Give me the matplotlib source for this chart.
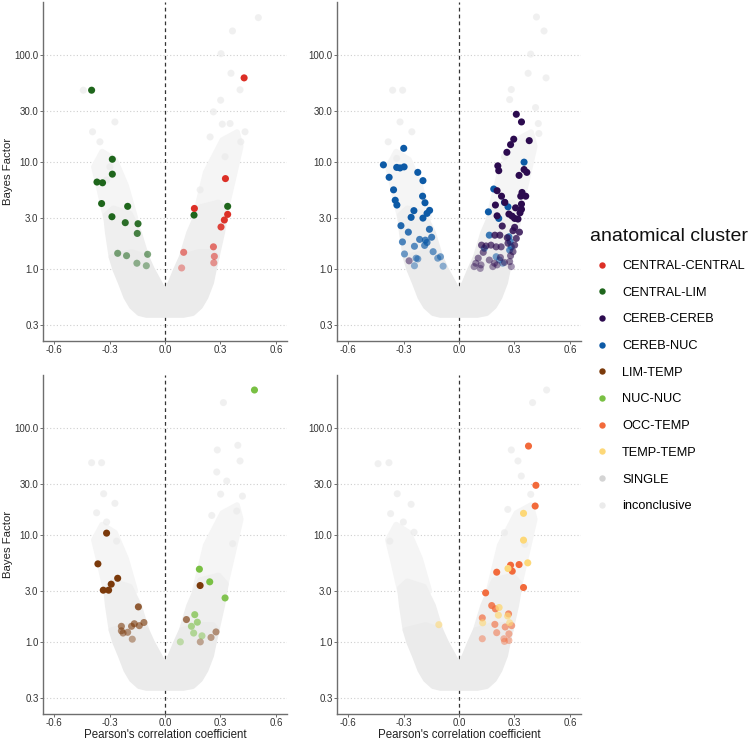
import numpy as np
import matplotlib
matplotlib.use("Agg")
import matplotlib.pyplot as plt
from matplotlib.lines import Line2D
from matplotlib.patches import Polygon

plt.rcParams['font.family'] = ['Liberation Sans', 'DejaVu Sans']

# ---------------- data ----------------
clusters = ["CENTRAL-CENTRAL", "CENTRAL-LIM", "CEREB-CEREB", "CEREB-NUC", "LIM-TEMP",
            "NUC-NUC", "OCC-TEMP", "TEMP-TEMP", "SINGLE", "inconclusive"]
colors = ["#dc2f26", "#1f661c", "#2c0b4f", "#0d5aa6", "#7b3a0b",
          "#79c043", "#f26a3b", "#fdd878", "#d4d4d4", "#ebebeb"]

# panel 1 (top-left)
cc_r = [0.428, 0.327, 0.159, 0.339, 0.321, 0.303, 0.262, 0.101, 0.267, 0.264, 0.090]
cc_bf = [60.7, 7.0, 3.69, 3.25, 2.88, 2.48, 1.62, 1.44, 1.32, 1.15, 1.03]
cl_r = [-0.397, -0.285, -0.285, -0.368, -0.338, -0.343, -0.202, -0.287, -0.215, -0.146,
        -0.150, -0.256, -0.208, -0.094, -0.152, -0.101, 0.157, 0.339]
cl_bf = [46.6, 10.6, 7.7, 6.5, 6.4, 4.1, 3.86, 3.09, 2.72, 2.66,
         2.16, 1.41, 1.34, 1.38, 1.14, 1.08, 3.2, 3.86]

# panel 2 (top-right)
cn_r = [-0.299, -0.409, -0.337, -0.319, -0.297, -0.378, -0.223, -0.195, -0.354, -0.197,
        -0.345, -0.336, -0.184, -0.244, -0.159, -0.173, -0.259, -0.195, -0.314, -0.160,
        -0.274, -0.306, -0.213, -0.182, -0.148, -0.241, -0.186, -0.173, -0.140, -0.295,
        -0.232, -0.223, -0.115, -0.100, -0.086, -0.241,
        0.352, 0.188, 0.246, 0.265, 0.159, 0.215, 0.164, 0.270, 0.277, 0.137,
        0.283, 0.219, 0.237, 0.274, 0.201]
cn_bf = [13.4, 9.4, 8.9, 8.8, 9.0, 7.2, 8.0, 6.7, 5.5, 4.8,
         4.4, 3.97, 4.17, 3.52, 3.54, 3.32, 3.05, 3.0, 2.55, 2.36,
         2.22, 1.80, 1.90, 1.87, 1.99, 1.64, 1.67, 1.78, 1.46, 1.39,
         1.27, 1.25, 1.27, 1.31, 1.07, 1.08,
         9.96, 5.6, 4.2, 3.82, 3.43, 2.98, 2.08, 2.01, 1.81, 1.57,
         1.62, 1.22, 1.14, 1.51, 1.31]
ce_r = [-0.270, 0.310, 0.338, 0.296, 0.380, 0.279, 0.259, 0.210, 0.215, 0.352, 0.367,
        0.325, 0.206, 0.230, 0.341, 0.334, 0.361, 0.248, 0.306, 0.338, 0.197, 0.206,
        0.270, 0.287, 0.301, 0.330, 0.338, 0.319, 0.234, 0.301, 0.292, 0.327, 0.194,
        0.221, 0.310, 0.261, 0.122, 0.146, 0.173, 0.201, 0.131, 0.104, 0.091, 0.119,
        0.164, 0.192, 0.224, 0.246, 0.274, 0.279, 0.292, 0.228, 0.082, 0.206, 0.115,
        0.183, 0.283, 0.265, 0.301]
ce_bf = [1.20, 27.8, 23.6, 16.3, 15.8, 14.5, 12.3, 9.2, 8.3, 8.5, 8.0,
         7.5, 5.4, 4.8, 5.2, 4.8, 4.8, 4.2, 3.74, 4.05, 3.97, 3.15,
         3.27, 3.13, 2.98, 3.36, 3.62, 2.94, 2.53, 2.46, 2.29, 2.22, 2.08,
         2.08, 1.94, 1.97, 1.68, 1.65, 1.68, 1.62, 1.44, 1.27, 1.14, 1.10,
         1.22, 1.14, 1.29, 1.16, 1.18, 1.34, 1.46, 1.62, 1.06, 1.10, 1.02,
         1.06, 1.06, 1.75, 1.68]

# panel 3 (bottom-left)
lt_r = [-0.316, -0.363, -0.256, -0.291, -0.334, -0.305, -0.144, -0.236, -0.236, -0.227,
        -0.202, -0.181, -0.166, -0.139, -0.114, -0.177, 0.190, 0.116, 0.276, 0.249, 0.191]
lt_bf = [10.4, 5.38, 3.95, 3.48, 3.06, 3.06, 2.14, 1.41, 1.28, 1.22,
         1.24, 1.41, 1.49, 1.43, 1.53, 1.07, 3.38, 1.63, 1.25, 1.11, 1.01]
nn_r = [0.484, 0.186, 0.242, 0.325, 0.161, 0.175, 0.143, 0.155, 0.200, 0.083]
nn_bf = [224, 4.8, 3.66, 2.59, 1.81, 1.54, 1.41, 1.22, 1.15, 1.01]

# panel 4 (bottom-right)
ot_r = [0.376, 0.416, 0.412, 0.279, 0.325, 0.288, 0.204, 0.349, 0.144, 0.177, 0.197,
        0.126, 0.194, 0.250, 0.285, 0.268, 0.204, 0.270, 0.126, 0.243, 0.270, 0.246]
ot_bf = [67.3, 29.0, 18.6, 5.23, 5.3, 4.6, 4.5, 3.24, 2.89, 2.20, 2.05,
         1.69, 1.47, 1.39, 1.43, 1.84, 1.23, 1.20, 1.08, 1.08, 1.04, 1.02]
tt_r = [0.349, 0.349, 0.372, 0.265, 0.217, 0.213, 0.263, 0.128, 0.274, -0.109]
tt_bf = [15.9, 8.95, 5.5, 4.87, 2.11, 1.79, 1.76, 1.52, 1.52, 1.46]

# inconclusive cloud envelopes (shared by all panels)
core_r = [-0.29, -0.27, -0.24, -0.21, -0.18, -0.14, -0.10, 0.10, 0.15, 0.19,
          0.22, 0.25, 0.265, 0.28, 0.26, 0.18, 0.09, 0.06, 0.03, 0.0, -0.03, -0.07,
          -0.10, -0.18]
core_bf = [1.3, 1.0, 0.75, 0.55, 0.45, 0.39, 0.375, 0.375, 0.39, 0.45,
           0.55, 0.75, 1.0, 1.3, 1.45, 1.45, 1.3, 1.0, 0.75, 0.6, 0.75, 1.0,
           1.3, 1.45]
mid_l_r = [-0.29, -0.31, -0.32, -0.28, -0.19, -0.14, -0.10]
mid_l_bf = [1.3, 2.2, 3.2, 3.7, 3.3, 2.2, 1.3]
mid_r_r = [0.28, 0.31, 0.33, 0.29, 0.19, 0.13, 0.09]
mid_r_bf = [1.3, 2.2, 3.5, 4.2, 3.8, 2.2, 1.3]
halo_l_r = [-0.32, -0.36, -0.385, -0.34, -0.27, -0.21, -0.16]
halo_l_bf = [3.0, 6.0, 9.0, 12.5, 10.5, 6.0, 3.0]
halo_r_r = [0.32, 0.37, 0.41, 0.39, 0.31, 0.22, 0.16]
halo_r_bf = [3.0, 7.0, 14.0, 19.0, 16.0, 8.0, 3.0]

# sparse inconclusive points per panel
sp1_r = [0.505, 0.365, 0.303, 0.357, 0.406, 0.301, 0.262, 0.352, 0.410, 0.244, 0.310,
         -0.442, -0.271, -0.392, -0.352, -0.298, 0.433, 0.325, 0.19, -0.316]
sp1_bf = [221, 166, 102, 67, 47, 37.6, 29.3, 22.8, 15.4, 17.1, 22.5,
          46.6, 23.6, 19.1, 15.4, 9.0, 19.1, 11.2, 5.5, 6.8]
sp2_r = [0.419, 0.460, 0.388, 0.374, 0.471, 0.283, 0.274, 0.414, 0.429, 0.432,
         -0.359, -0.305, -0.319, -0.255, -0.383, 0.246, -0.337]
sp2_bf = [224, 166, 101, 67, 60.7, 47.3, 38.1, 32.1, 22.8, 18.4,
          46.6, 46.6, 23.6, 19.1, 15.4, 11.2, 10.8]
sp3_r = [0.316, 0.394, 0.406, 0.283, 0.280, 0.334, 0.419, 0.301, 0.253, 0.388, 0.366,
         -0.397, -0.343, -0.332, -0.271, -0.370, -0.316, -0.262]
sp3_bf = [171, 68.4, 48.9, 61.9, 38.6, 31.8, 23.0, 24.0, 15.2, 16.7, 8.3,
          47.1, 47.1, 24.2, 19.7, 16.1, 13.2, 8.76]
sp4_r = [0.474, 0.398, 0.283, 0.319, 0.337, 0.388, -0.438, -0.379, -0.334, -0.259,
         -0.370, -0.301, -0.243, -0.374, 0.246, 0.356, 0.264]
sp4_bf = [224, 171, 61.9, 48.9, 35.4, 23.9, 46.1, 47.1, 24.2, 19.3,
          15.8, 13.2, 10.6, 8.76, 10.5, 8.2, 17.3]

yticks = [0.3, 1.0, 3.0, 10.0, 30.0, 100.0]
xticks = [-0.6, -0.3, 0.0, 0.3, 0.6]

panels = [
    dict(pos=[43, 2, 287, 341], sp=(sp1_r, sp1_bf),
         groups=[(cl_r, cl_bf, 1), (cc_r, cc_bf, 0)], ylab=True, xlab=False),
    dict(pos=[337, 2, 581, 341], sp=(sp2_r, sp2_bf),
         groups=[(cn_r, cn_bf, 3), (ce_r, ce_bf, 2)], ylab=False, xlab=False),
    dict(pos=[43, 375, 287, 714], sp=(sp3_r, sp3_bf),
         groups=[(lt_r, lt_bf, 4), (nn_r, nn_bf, 5)], ylab=True, xlab=True),
    dict(pos=[337, 375, 581, 714], sp=(sp4_r, sp4_bf),
         groups=[(ot_r, ot_bf, 6), (tt_r, tt_bf, 7)], ylab=False, xlab=True),
]

W, H = 749, 740
fig = plt.figure(figsize=(W / 100, H / 100), dpi=100)


def alpha_for(bf):
    a = 0.4 + 0.6 * np.log10(np.asarray(bf)) / np.log10(3.0)
    return np.clip(a, 0.4, 1.0)


def poly(ax, xs, ys, color, z):
    ax.add_patch(Polygon(np.column_stack([xs, ys]), closed=True, facecolor=color,
                         edgecolor=color, lw=4, joinstyle="round", zorder=z))


for p in panels:
    x0, y0, x1, y1 = p["pos"]
    w, h = x1 - x0, y1 - y0
    ax = fig.add_axes([x0 / W, 1 - y1 / H, w / W, h / H])
    ax.set_yscale("log")
    ax.set_xlim(-0.66, 0.66)
    ax.set_ylim(0.215, 309)
    ax.set_yticks(yticks)
    ax.set_yticklabels([f"{v:.1f}" for v in yticks])
    ax.minorticks_off()
    ax.set_xticks(xticks)
    ax.set_xticklabels([f"{v:.1f}" for v in xticks])
    for yv in yticks:
        ax.axhline(yv, color="#cfcfcf", lw=0.8, ls=(0, (1, 2)), zorder=0)
    ax.axvline(0, color="#333333", lw=0.9, ls=(0, (3, 2.5)), zorder=1)
    for s in ["top", "right"]:
        ax.spines[s].set_visible(False)
    for s in ["left", "bottom"]:
        ax.spines[s].set_color("#6e6e6e")
        ax.spines[s].set_linewidth(1.0)
    ax.tick_params(colors="#6e6e6e", labelcolor="#333333", labelsize=7, length=2,
                   width=0.7, pad=1.2)

    # inconclusive cloud
    poly(ax, halo_l_r, halo_l_bf, "#f5f5f5", 2)
    poly(ax, halo_r_r, halo_r_bf, "#f5f5f5", 2)
    poly(ax, mid_l_r, mid_l_bf, "#efefef", 2.5)
    poly(ax, mid_r_r, mid_r_bf, "#efefef", 2.5)
    poly(ax, core_r, core_bf, "#ebebeb", 3)
    spr, spb = p["sp"]
    ax.scatter(spr, spb, s=26, color=colors[9], alpha=0.7, edgecolors="none", zorder=3)

    for gr, gb, ci in p["groups"]:
        ax.scatter(gr, gb, s=26, color=colors[ci], alpha=alpha_for(gb),
                   edgecolors="none", zorder=5)

    if p["ylab"]:
        ax.set_ylabel("Bayes Factor", fontsize=8.2, color="#222222", va="center")
        ax.yaxis.set_label_coords((8.5 - x0) / w, 0.5)
    if p["xlab"]:
        ax.set_xlabel("Pearson's correlation coefficient", fontsize=8.3, color="#222222",
                      va="center")
        ax.xaxis.set_label_coords(0.5, (y1 - 734.5) / h)

fig.text(590 / W, 1 - 237 / H, "anatomical cluster", fontsize=14, color="#111111",
         ha="left", va="center")
handles = [Line2D([], [], marker="o", ls="none", markersize=4.6, markerfacecolor=c,
                  markeredgecolor="none") for c in colors]
leg = fig.legend(handles, clusters, loc="upper left",
                 bbox_to_anchor=(596 / W, 1 - 260 / H), frameon=False, fontsize=9.2,
                 labelspacing=1.15, handletextpad=1.05,
                 handlelength=1.0, borderaxespad=0, borderpad=0)

fig.savefig("out.png", dpi=100)
